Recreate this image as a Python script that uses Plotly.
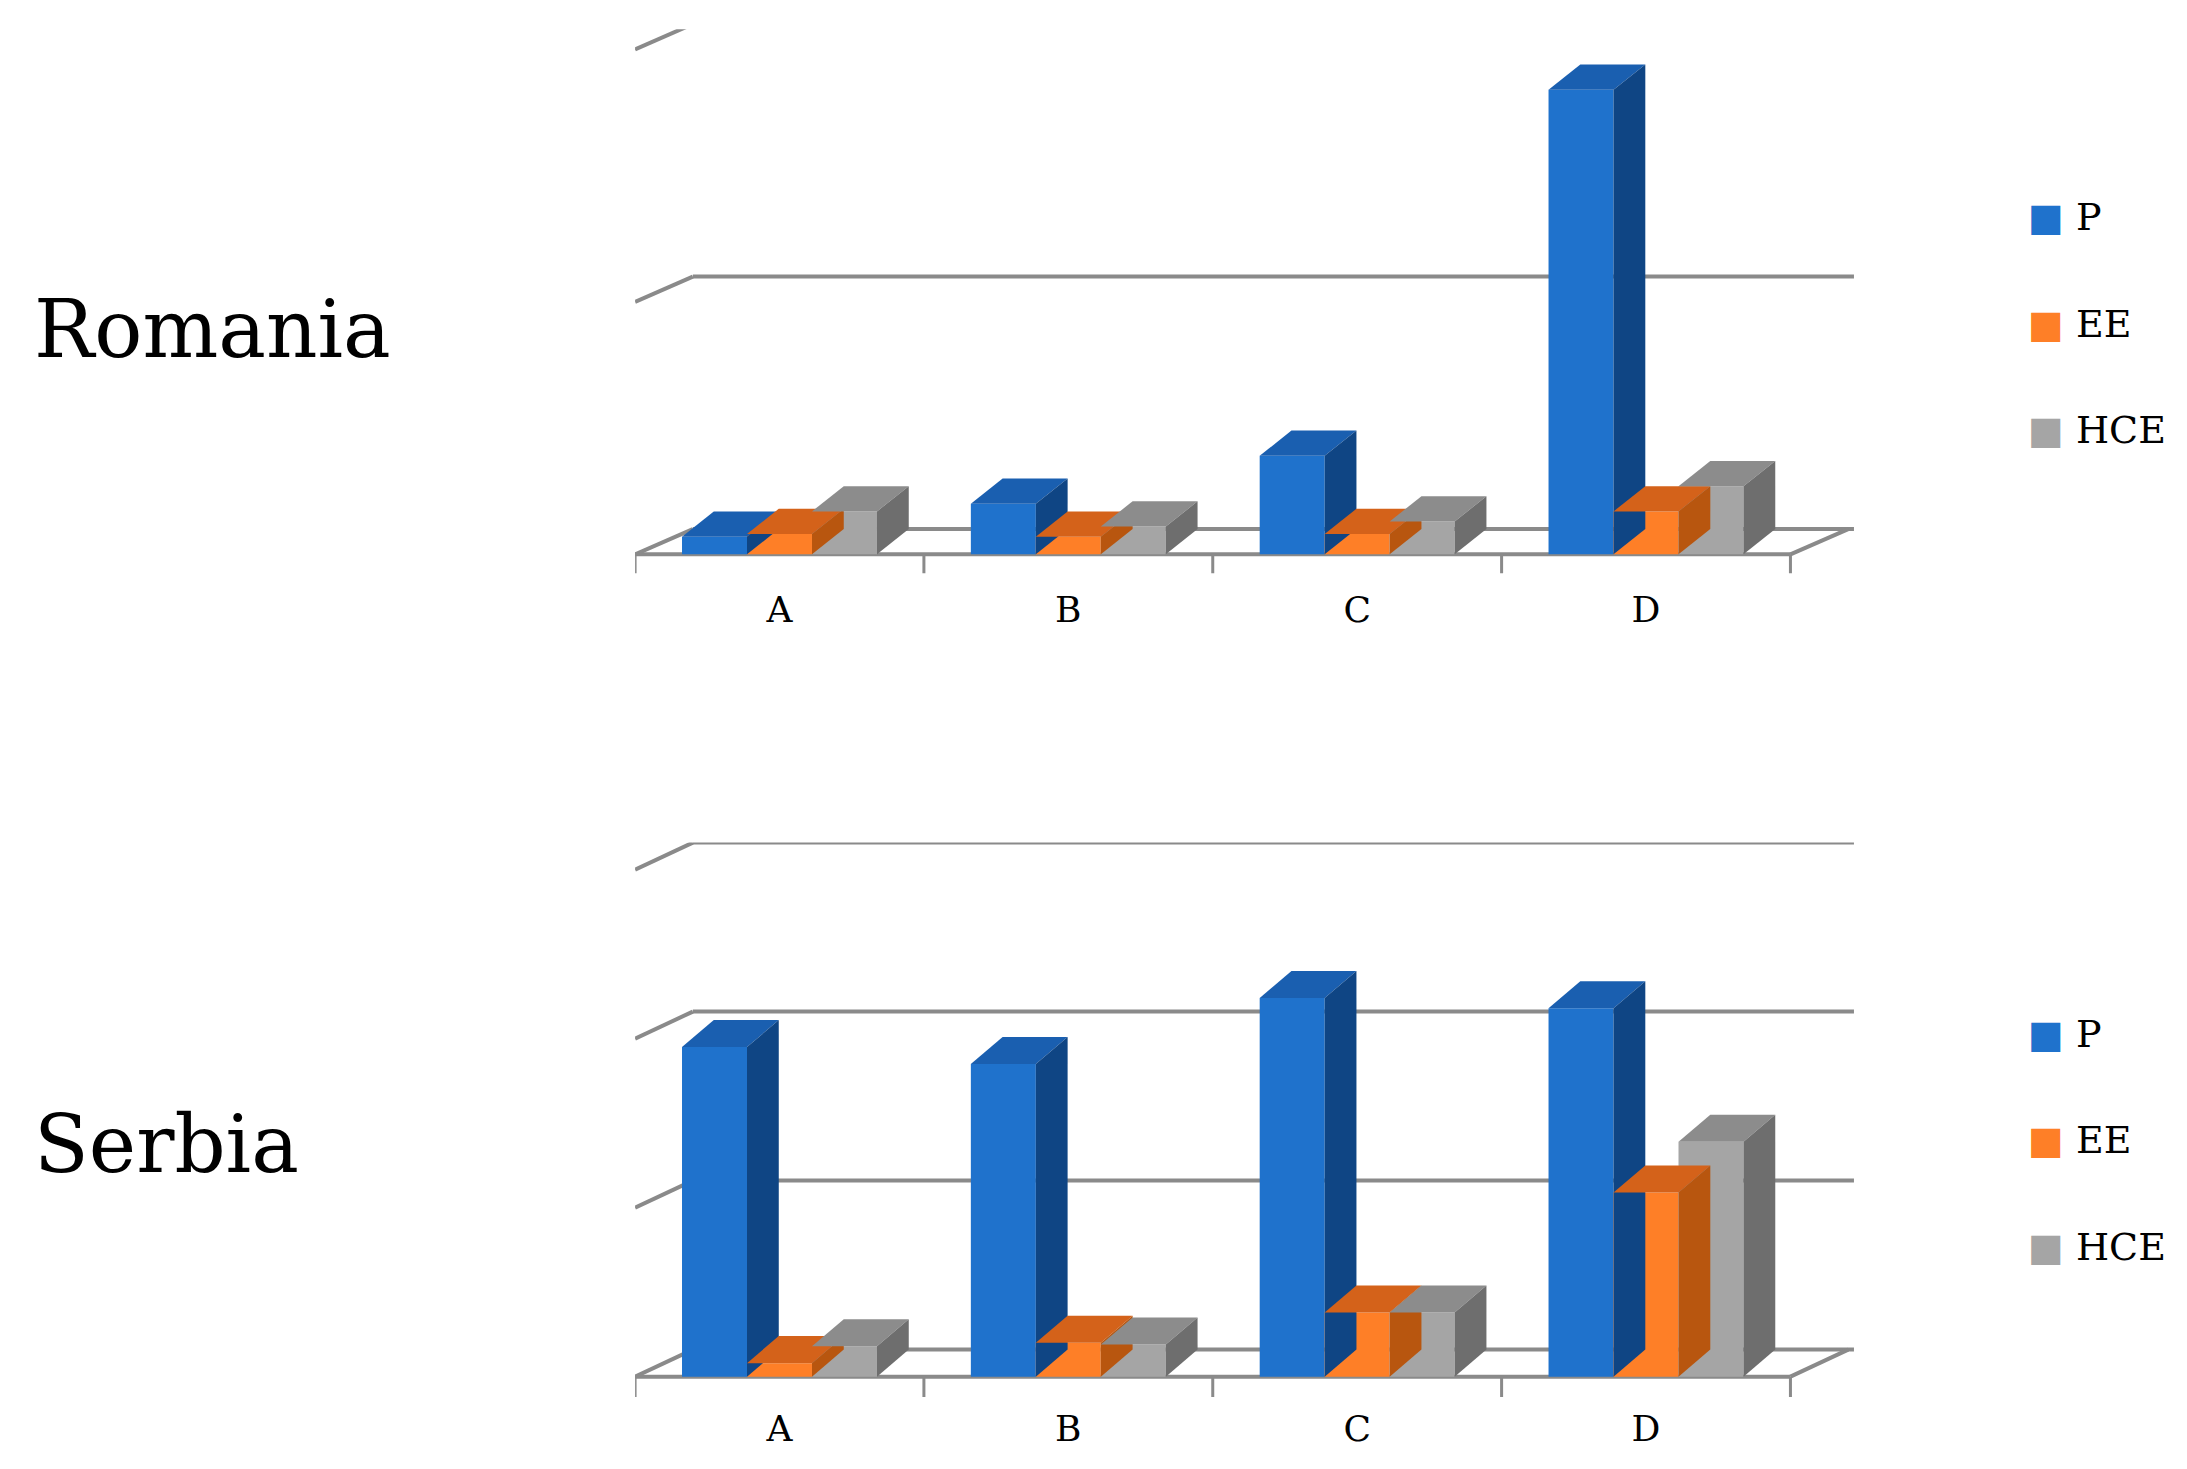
import plotly.graph_objects as go

categories = ["A", "B", "C", "D"]
series = ["P", "EE", "HCE"]
romania_P = [0.07, 0.20, 0.39, 1.84]
romania_EE = [0.08, 0.07, 0.08, 0.17]
romania_HCE = [0.17, 0.11, 0.13, 0.27]
serbia_P = [1.95, 1.85, 2.24, 2.18]
serbia_EE = [0.08, 0.20, 0.38, 1.09]
serbia_HCE = [0.18, 0.19, 0.38, 1.39]

front = {"P": "#1f72cc", "EE": "#fe7f27", "HCE": "#a5a5a5"}
topc = {"P": "#1a5fb0", "EE": "#d4621a", "HCE": "#8c8c8c"}
sidec = {"P": "#0f4584", "EE": "#b8560f", "HCE": "#6e6e6e"}

W, H = 2187, 1469
fig = go.Figure()
panels = [
    dict(name="Romania", data=[romania_P, romania_EE, romania_HCE], grids=[0, 1, 2],
         yr=[-0.12, 2.08], dom=[1 - 409 / 1042, 1 - 15 / 1042], dy=0.10, xa="x", ya="y"),
    dict(name="Serbia", data=[serbia_P, serbia_EE, serbia_HCE], grids=[0, 1, 2, 3],
         yr=[-0.16, 3.16], dom=[1 - 990 / 1042, 1 - 592 / 1042], dy=0.16, xa="x2", ya="y2"),
]
bw = 0.225
offs = [-0.225, 0, 0.225]
dx = 0.2
xr = [-0.5, 3.72]
gridcol = "#8a8a8a"
shapes = []
annotations = []
for pi, p in enumerate(panels):
    xref, yref = p["xa"], p["ya"]
    dy = p["dy"]
    # gridlines (back plane + diagonal)
    for g in p["grids"]:
        shapes.append(dict(type="line", xref=xref, yref=yref, x0=xr[0] + dx, x1=xr[1],
                           y0=g + dy, y1=g + dy, line=dict(color=gridcol, width=4), layer="below"))
        shapes.append(dict(type="line", xref=xref, yref=yref, x0=xr[0], x1=xr[0] + dx,
                           y0=g, y1=g + dy, line=dict(color=gridcol, width=4), layer="below"))
    # floor front edge and right edge
    shapes.append(dict(type="line", xref=xref, yref=yref, x0=-0.5, x1=3.5, y0=0, y1=0,
                       line=dict(color=gridcol, width=4), layer="below"))
    shapes.append(dict(type="line", xref=xref, yref=yref, x0=3.5, x1=3.5 + dx, y0=0, y1=dy,
                       line=dict(color=gridcol, width=4), layer="below"))
    for k in range(5):
        shapes.append(dict(type="line", xref=xref, yref=yref, x0=k - 0.5, x1=k - 0.5,
                           y0=0, y1=-dy * 0.75, line=dict(color=gridcol, width=3)))
    for si, s in enumerate(series):
        vals = p["data"][si]
        for ci, v in enumerate(vals):
            x0 = ci + offs[si] - bw / 2
            x1 = x0 + bw
            d = dx * 0.55
            e = dy
            fig.add_trace(go.Scatter(x=[x0, x0 + d, x1 + d, x1, x0], y=[v, v + e, v + e, v, v],
                                     fill="toself", fillcolor=topc[s], mode="lines",
                                     line=dict(width=0), xaxis=xref, yaxis=yref,
                                     showlegend=False, hoverinfo="skip"))
            fig.add_trace(go.Scatter(x=[x1, x1 + d, x1 + d, x1, x1], y=[0, e, v + e, v, 0],
                                     fill="toself", fillcolor=sidec[s], mode="lines",
                                     line=dict(width=0), xaxis=xref, yaxis=yref,
                                     showlegend=False, hoverinfo="skip"))
        fig.add_trace(go.Bar(x=[c + offs[si] for c in range(4)], y=vals, width=bw,
                             marker=dict(color=front[s], line=dict(width=0)),
                             xaxis=xref, yaxis=yref, showlegend=False, name=s))
    ytop = p["dom"][1]
    ymid = (p["dom"][0] + p["dom"][1]) / 2
    annotations.append(dict(text=p["name"], xref="paper", yref="paper", x=0.011,
                            y=1 - (228 if pi == 0 else 806) / 1042, xanchor="left", yanchor="middle",
                            showarrow=False, font=dict(size=80, family="DejaVu Serif", color="black")))
    ly = [148, 224, 299] if pi == 0 else [728, 803, 879]
    for si, s in enumerate(series):
        annotations.append(dict(text=f"<span style='color:{front[s]}'>■</span> {s}", xref="paper",
                                yref="paper", x=1 - 120 / 1552, y=1 - ly[si] / 1042, xanchor="left",
                                yanchor="middle", showarrow=False,
                                font=dict(size=38, family="DejaVu Serif", color="black")))

axcommon = dict(showgrid=False, zeroline=False, showline=False)
fig.update_layout(
    width=W, height=H, bgcolor=None, paper_bgcolor="white", plot_bgcolor="white",
    margin=dict(l=0, r=0, t=0, b=0), barmode="overlay", showlegend=False,
    shapes=shapes, annotations=annotations,
    font=dict(family="DejaVu Serif", color="black"),
    xaxis=dict(domain=[445 / 1552, 1310 / 1552], range=xr, tickvals=[0, 1, 2, 3], ticktext=categories,
               tickfont=dict(size=36), ticks="", anchor="y", **axcommon),
    yaxis=dict(domain=panels[0]["dom"], range=panels[0]["yr"], visible=False, anchor="x", **axcommon),
    xaxis2=dict(domain=[445 / 1552, 1310 / 1552], range=xr, tickvals=[0, 1, 2, 3], ticktext=categories,
                tickfont=dict(size=36), ticks="", anchor="y2", **axcommon),
    yaxis2=dict(domain=panels[1]["dom"], range=panels[1]["yr"], visible=False, anchor="x2", **axcommon),
) if False else None

fig.update_layout(
    width=W, height=H, paper_bgcolor="white", plot_bgcolor="white",
    margin=dict(l=0, r=0, t=0, b=0), barmode="overlay", showlegend=False,
    shapes=shapes, annotations=annotations,
    font=dict(family="DejaVu Serif", color="black"),
    xaxis=dict(domain=[445 / 1552, 1310 / 1552], range=xr, tickvals=[0, 1, 2, 3], ticktext=categories,
               tickfont=dict(size=36), ticks="", anchor="y", **axcommon),
    yaxis=dict(domain=panels[0]["dom"], range=panels[0]["yr"], visible=False, anchor="x", **axcommon),
    xaxis2=dict(domain=[445 / 1552, 1310 / 1552], range=xr, tickvals=[0, 1, 2, 3], ticktext=categories,
                tickfont=dict(size=36), ticks="", anchor="y2", **axcommon),
    yaxis2=dict(domain=panels[1]["dom"], range=panels[1]["yr"], visible=False, anchor="x2", **axcommon),
)
fig.write_html("out.html")
